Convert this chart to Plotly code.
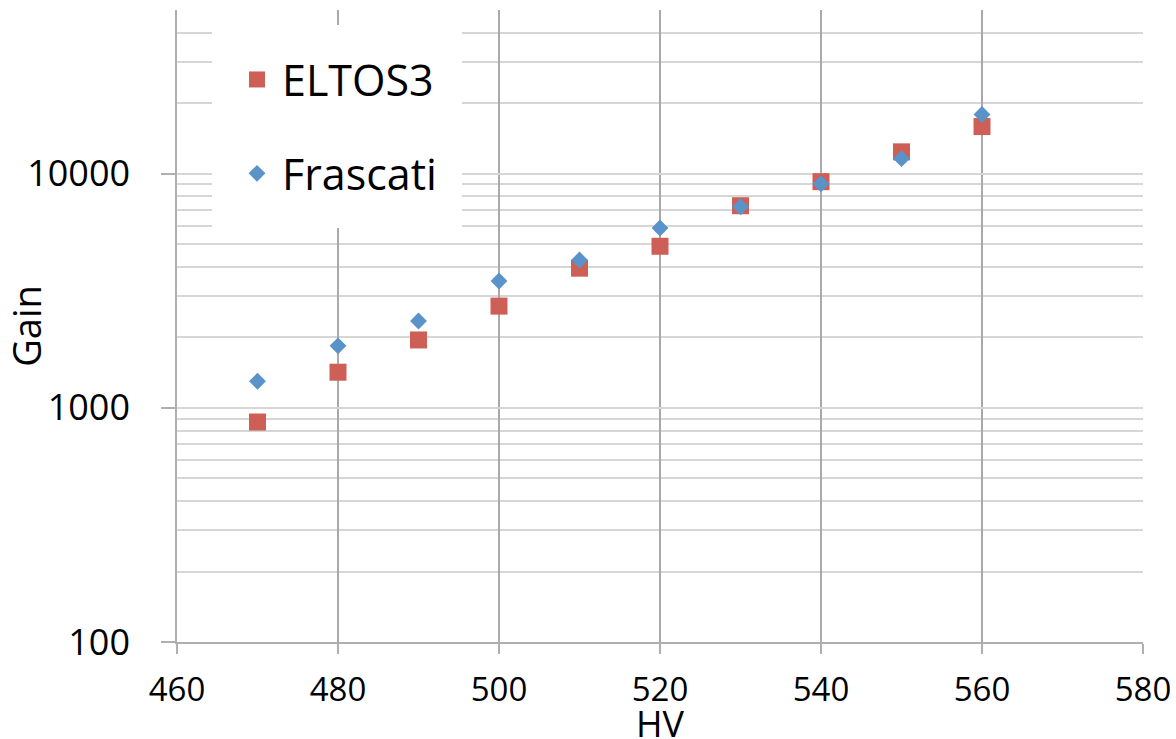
import plotly.graph_objects as go
import math

hv = [470, 480, 490, 500, 510, 520, 530, 540, 550, 560]
eltos3 = [870, 1420, 1950, 2720, 3950, 4900, 7300, 9250, 12400, 15900]
frascati = [1300, 1840, 2350, 3480, 4280, 5860, 7230, 9060, 11600, 17900]

y_major = [100, 1000, 10000]
y_major_text = ["100", "1000", "10000"]
y_minor = [m * 10 ** e for e in (2, 3, 4) for m in range(2, 10) if m * 10 ** e <= 50000]
x_ticks = [460, 480, 500, 520, 540, 560, 580]

RED = "#CD5F56"
BLUE = "#5A93CA"
FONT = "Open Sans"

fig = go.Figure()
fig.add_trace(go.Scatter(
    x=hv, y=eltos3, mode="markers", name="ELTOS3", legendgroup="a",
    marker=dict(symbol="square", size=17, color=RED),
))
fig.add_trace(go.Scatter(
    x=hv, y=frascati, mode="markers", name="Frascati", legendgroup="b",
    marker=dict(symbol="diamond", size=13, color=BLUE),
))

fig.update_layout(
    width=1176, height=739,
    margin=dict(l=177, r=33, t=10, b=97, autoexpand=False),
    paper_bgcolor="white", plot_bgcolor="white",
    font=dict(family=FONT, color="black"),
    showlegend=True,
    legend=dict(
        x=(212 - 177) / 966, y=(642 - 25) / 632, xanchor="left", yanchor="top",
        bgcolor="white", bordercolor="white", borderwidth=20,
        font=dict(size=43, family=FONT),
        tracegroupgap=35, itemwidth=40,
    ),
    xaxis=dict(
        range=[460, 580], tickvals=x_ticks, automargin=False,
        showgrid=True, gridcolor="#A9A9A9", gridwidth=1.5,
        showline=True, linecolor="#AFAFAF", linewidth=1.5,
        ticks="outside", ticklen=10, tickcolor="#AFAFAF", tickwidth=1.5,
        tickfont=dict(size=33), zeroline=False, ticklabelstandoff=8,
    ),
    yaxis=dict(
        type="log", range=[2, math.log10(50000) + 0.0003], automargin=False,
        tickvals=y_major, ticktext=y_major_text,
        showgrid=True, gridcolor="#D6D6D6", gridwidth=1.5,
        showline=True, linecolor="#AFAFAF", linewidth=1.5,
        ticks="outside", ticklen=14, tickcolor="#AFAFAF", tickwidth=1.5,
        tickfont=dict(size=36), zeroline=False, ticklabelstandoff=24,
        minor=dict(tickvals=y_minor, showgrid=True, gridcolor="#D6D6D6", gridwidth=1.5, ticks=""),
        title=dict(text="Gain", font=dict(size=38), standoff=0),
    ),
    annotations=[dict(
        text="HV", xref="paper", yref="paper", x=0.5, y=(642 - 697) / 632,
        xanchor="center", yanchor="top", showarrow=False,
        font=dict(size=36, family=FONT, color="black"),
    )],
)

fig.write_html("out.html")
